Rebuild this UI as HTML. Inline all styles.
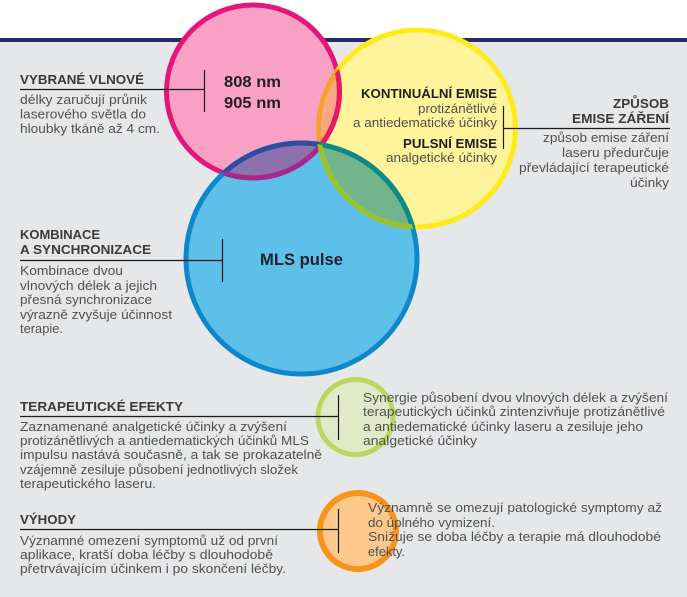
<!DOCTYPE html>
<html>
<head>
<meta charset="utf-8">
<style>
html,body{margin:0;padding:0;background:#fff;}
svg{display:block;}
text{font-family:"Liberation Sans",Arial,sans-serif;}
.t{font-size:13px;font-weight:bold;fill:#3a3a3a;}
.b{font-size:13px;fill:#505050;}
.tk{font-size:13px;font-weight:bold;fill:#1e1e1e;}
</style>
</head>
<body>
<svg width="687" height="597" viewBox="0 0 687 597" xmlns="http://www.w3.org/2000/svg">
<defs>
<clipPath id="cP"><circle cx="253" cy="91.5" r="86.5"/></clipPath>
<clipPath id="cY"><circle cx="417" cy="128.5" r="98.5"/></clipPath>
<clipPath id="cB"><circle cx="301.5" cy="258.5" r="115.5"/></clipPath>
</defs>
<rect x="0" y="0" width="687" height="597" fill="#ffffff"/>
<rect x="0" y="42" width="687" height="555" fill="#e6e7e9"/>
<rect x="0" y="38" width="687" height="4" fill="#262a66"/>

<!-- fills -->
<circle cx="253" cy="91.5" r="86.5" fill="#f9a1c5"/>
<circle cx="417" cy="128.5" r="98.5" fill="#fff39b"/>
<circle cx="301.5" cy="258.5" r="115.5" fill="#5dc0e8"/>
<circle cx="417" cy="128.5" r="98.5" fill="#f8a982" clip-path="url(#cP)"/>
<circle cx="301.5" cy="258.5" r="115.5" fill="#8d70ae" clip-path="url(#cP)"/>
<circle cx="301.5" cy="258.5" r="115.5" fill="#72b48c" clip-path="url(#cY)"/>

<!-- strokes -->
<circle cx="253" cy="91.5" r="86.5" fill="none" stroke="#e4157c" stroke-width="5"/>
<circle cx="417" cy="128.5" r="98.5" fill="none" stroke="#ffea1a" stroke-width="5"/>
<circle cx="301.5" cy="258.5" r="115.5" fill="none" stroke="#0f88cb" stroke-width="5"/>
<circle cx="417" cy="128.5" r="98.5" fill="none" stroke="#f5a030" stroke-width="5" clip-path="url(#cP)"/>
<circle cx="253" cy="91.5" r="86.5" fill="none" stroke="#e8195f" stroke-width="5" clip-path="url(#cY)"/>
<circle cx="301.5" cy="258.5" r="115.5" fill="none" stroke="#2b4f9c" stroke-width="5" clip-path="url(#cP)"/>
<circle cx="253" cy="91.5" r="86.5" fill="none" stroke="#a5288a" stroke-width="5" clip-path="url(#cB)"/>
<circle cx="301.5" cy="258.5" r="115.5" fill="none" stroke="#108a86" stroke-width="5" clip-path="url(#cY)"/>
<circle cx="417" cy="128.5" r="98.5" fill="none" stroke="#98c32a" stroke-width="5" clip-path="url(#cB)"/>

<!-- small circles -->
<circle cx="355.5" cy="417" r="37.5" fill="#e1e9c9" stroke="#bdd660" stroke-width="5"/>
<circle cx="358" cy="531" r="38" fill="#fdc98a" stroke="#f7941d" stroke-width="6"/>

<!-- connector lines -->
<g stroke="#1a1a1a" stroke-width="1.2" fill="none">
<line x1="20" y1="89.5" x2="204" y2="89.5"/>
<line x1="204.5" y1="70" x2="204.5" y2="112"/>
<line x1="20" y1="260.5" x2="222" y2="260.5"/>
<line x1="222.5" y1="239" x2="222.5" y2="282"/>
<line x1="503.5" y1="106" x2="503.5" y2="149"/>
<line x1="503" y1="128.5" x2="670" y2="128.5"/>
<line x1="20" y1="416.5" x2="338" y2="416.5"/>
<line x1="338.5" y1="395" x2="338.5" y2="440"/>
<line x1="20" y1="529.5" x2="338" y2="529.5"/>
<line x1="338.5" y1="509" x2="338.5" y2="553"/>
</g>

<!-- VYBRANÉ VLNOVÉ -->
<text class="t" x="20" y="84" textLength="124" lengthAdjust="spacingAndGlyphs">VYBRANÉ VLNOVÉ</text>
<text class="b" x="20" y="104" textLength="127" lengthAdjust="spacingAndGlyphs">délky zaručují průnik</text>
<text class="b" x="20" y="118.5" textLength="126" lengthAdjust="spacingAndGlyphs">laserového světla do</text>
<text class="b" x="20" y="133" textLength="140" lengthAdjust="spacingAndGlyphs">hloubky tkáně až 4 cm.</text>

<text x="224" y="87" font-size="16" font-weight="bold" fill="#231f20" textLength="57" lengthAdjust="spacingAndGlyphs">808 nm</text>
<text x="224" y="108" font-size="16" font-weight="bold" fill="#231f20" textLength="57" lengthAdjust="spacingAndGlyphs">905 nm</text>

<!-- yellow circle text -->
<text class="tk" x="497" y="98" text-anchor="end" textLength="136" lengthAdjust="spacingAndGlyphs">KONTINUÁLNÍ EMISE</text>
<text class="b" x="497" y="113" text-anchor="end" textLength="79" lengthAdjust="spacingAndGlyphs">protizánětlivé</text>
<text class="b" x="497" y="127" text-anchor="end" textLength="144" lengthAdjust="spacingAndGlyphs">a antiedematické účinky</text>
<text class="tk" x="497" y="148" text-anchor="end" textLength="94" lengthAdjust="spacingAndGlyphs">PULSNÍ EMISE</text>
<text class="b" x="497" y="162" text-anchor="end" textLength="111" lengthAdjust="spacingAndGlyphs">analgetické účinky</text>

<!-- ZPŮSOB EMISE ZÁŘENÍ -->
<text class="t" x="669" y="108" text-anchor="end" textLength="56" lengthAdjust="spacingAndGlyphs">ZPŮSOB</text>
<text class="t" x="669" y="123" text-anchor="end" textLength="97" lengthAdjust="spacingAndGlyphs">EMISE ZÁŘENÍ</text>
<text class="b" x="669" y="142" text-anchor="end" textLength="126" lengthAdjust="spacingAndGlyphs">způsob emise záření</text>
<text class="b" x="669" y="157" text-anchor="end" textLength="107" lengthAdjust="spacingAndGlyphs">laseru předurčuje</text>
<text class="b" x="669" y="172" text-anchor="end" textLength="150" lengthAdjust="spacingAndGlyphs">převládající terapeutické</text>
<text class="b" x="669" y="187" text-anchor="end" textLength="39" lengthAdjust="spacingAndGlyphs">účinky</text>

<!-- KOMBINACE -->
<text class="t" x="20" y="239" textLength="80" lengthAdjust="spacingAndGlyphs">KOMBINACE</text>
<text class="t" x="20" y="254" textLength="131" lengthAdjust="spacingAndGlyphs">A SYNCHRONIZACE</text>
<text class="b" x="20" y="275" textLength="103" lengthAdjust="spacingAndGlyphs">Kombinace dvou</text>
<text class="b" x="20" y="290" textLength="137" lengthAdjust="spacingAndGlyphs">vlnových délek a jejich</text>
<text class="b" x="20" y="304" textLength="132" lengthAdjust="spacingAndGlyphs">přesná synchronizace</text>
<text class="b" x="20" y="319" textLength="152" lengthAdjust="spacingAndGlyphs">výrazně zvyšuje účinnost</text>
<text class="b" x="20" y="333" textLength="43" lengthAdjust="spacingAndGlyphs">terapie.</text>

<text x="260" y="265" font-size="17" font-weight="bold" fill="#1f1f2f" textLength="83" lengthAdjust="spacingAndGlyphs">MLS pulse</text>

<!-- TERAPEUTICKÉ EFEKTY -->
<text class="t" x="20" y="411" textLength="163" lengthAdjust="spacingAndGlyphs">TERAPEUTICKÉ EFEKTY</text>
<text class="b" x="20" y="431" textLength="267" lengthAdjust="spacingAndGlyphs">Zaznamenané analgetické účinky a zvýšení</text>
<text class="b" x="20" y="445" textLength="289" lengthAdjust="spacingAndGlyphs">protizánětlivých a antiedematických účinků MLS</text>
<text class="b" x="20" y="459" textLength="302" lengthAdjust="spacingAndGlyphs">impulsu nastává současně, a tak se prokazatelně</text>
<text class="b" x="20" y="474" textLength="278" lengthAdjust="spacingAndGlyphs">vzájemně zesiluje působení jednotlivých složek</text>
<text class="b" x="20" y="488" textLength="136" lengthAdjust="spacingAndGlyphs">terapeutického laseru.</text>

<!-- VÝHODY -->
<text class="t" x="20" y="524" textLength="56" lengthAdjust="spacingAndGlyphs">VÝHODY</text>
<text class="b" x="20" y="545" textLength="258" lengthAdjust="spacingAndGlyphs">Významné omezení symptomů už od první</text>
<text class="b" x="20" y="559" textLength="253" lengthAdjust="spacingAndGlyphs">aplikace, kratší doba léčby s dlouhodobě</text>
<text class="b" x="20" y="573" textLength="266" lengthAdjust="spacingAndGlyphs">přetrvávajícím účinkem i po skončení léčby.</text>

<!-- green circle text -->
<text class="b" x="363" y="402" textLength="305" lengthAdjust="spacingAndGlyphs">Synergie působení dvou vlnových délek a zvýšení</text>
<text class="b" x="363" y="416" textLength="302" lengthAdjust="spacingAndGlyphs">terapeutických účinků zintenzivňuje protizánětlivé</text>
<text class="b" x="363" y="431" textLength="280" lengthAdjust="spacingAndGlyphs">a antiedematické účinky laseru a zesiluje jeho</text>
<text class="b" x="363" y="445" textLength="114" lengthAdjust="spacingAndGlyphs">analgetické účinky</text>

<!-- orange circle text -->
<text class="b" x="368" y="512" textLength="294" lengthAdjust="spacingAndGlyphs">Významně se omezují patologické symptomy až</text>
<text class="b" x="368" y="527" textLength="127" lengthAdjust="spacingAndGlyphs">do úplného vymizení.</text>
<text class="b" x="368" y="541" textLength="293" lengthAdjust="spacingAndGlyphs">Snižuje se doba léčby a terapie má dlouhodobé</text>
<text class="b" x="368" y="556" textLength="37" lengthAdjust="spacingAndGlyphs">efekty.</text>
</svg>
</body>
</html>
